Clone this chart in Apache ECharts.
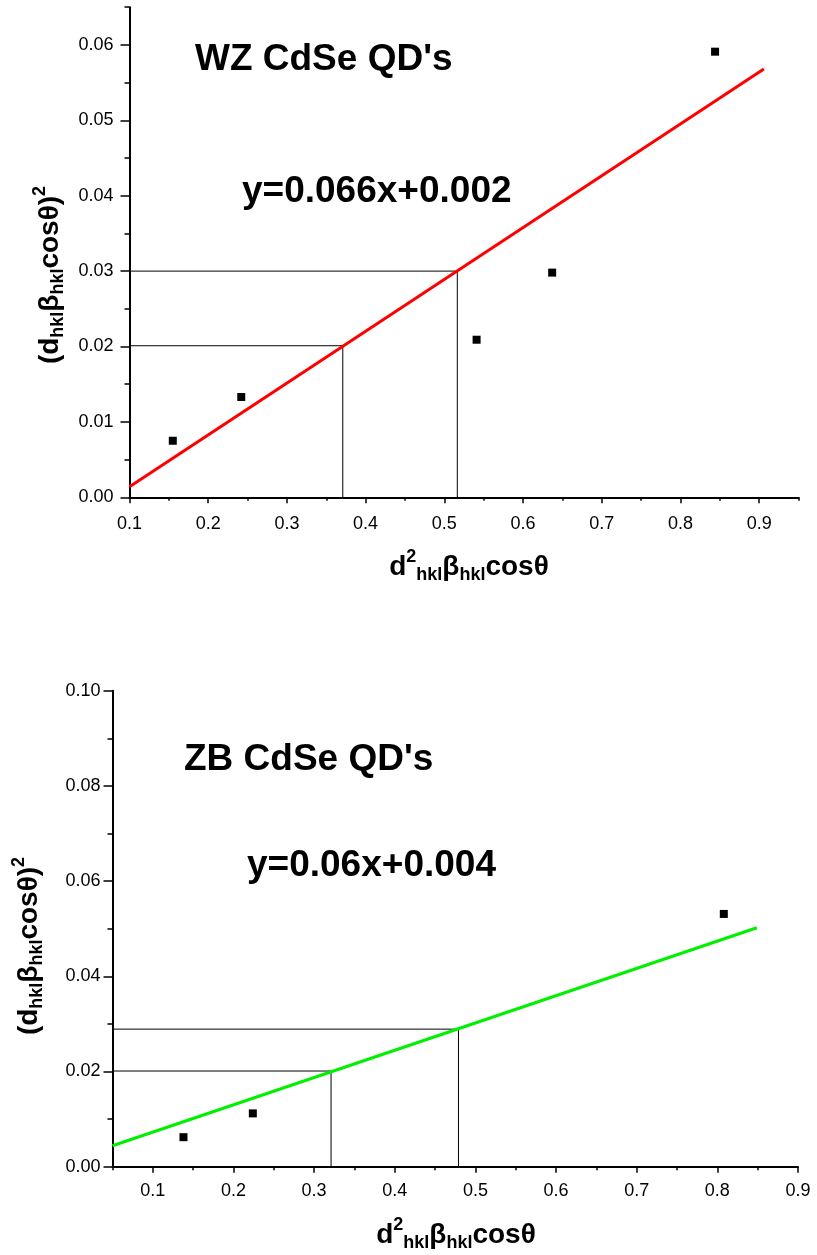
<!DOCTYPE html>
<html><head><meta charset="utf-8">
<script src="https://cdn.jsdelivr.net/npm/echarts@6/dist/echarts.min.js"></script>
<style>html,body{margin:0;padding:0;background:#fff}#c{width:817px;height:1255px}</style>
</head><body><div id="c"></div>
<script>
// ---------- WZ CdSe (top panel) ----------
const wzX = [0.155, 0.242, 0.541, 0.637, 0.844];
const wzY = [0.0075, 0.0133, 0.0209, 0.0298, 0.0591];
const wzFitX = [0.1, 0.906];
const wzFitY = [0.0014, 0.0568];
const wzGuideX = [0.371, 0.5165];
const wzGuideY = [0.0201, 0.030];
const wzXRange = [0.1, 0.95];
const wzYRange = [0, 0.065];
const wzXTicks = [0.1, 0.2, 0.3, 0.4, 0.5, 0.6, 0.7, 0.8, 0.9];
const wzYTicks = [0, 0.01, 0.02, 0.03, 0.04, 0.05, 0.06];
const wzTitle = "WZ CdSe QD's";
const wzEq = "y=0.066x+0.002";

// ---------- ZB CdSe (bottom panel) ----------
const zbX = [0.138, 0.224, 0.808];
const zbY = [0.0062, 0.0112, 0.0531];
const zbFitX = [0.05, 0.849];
const zbFitY = [0.0044, 0.0502];
const zbGuideX = [0.321, 0.479];
const zbGuideY = [0.0201, 0.0289];
const zbXRange = [0.05, 0.9];
const zbYRange = [0, 0.10];
const zbXTicks = [0.1, 0.2, 0.3, 0.4, 0.5, 0.6, 0.7, 0.8, 0.9];
const zbYTicks = [0, 0.02, 0.04, 0.06, 0.08, 0.10];
const zbTitle = "ZB CdSe QD's";
const zbEq = "y=0.06x+0.004";

const FONT = "'Liberation Sans', Arial, sans-serif";

function majorAxis(g, range, ticks, dec, pos, tickLen, margin) {
  return {
    type: 'value', gridIndex: g, min: range[0], max: range[1], position: pos,
    axisLine: { show: true, onZero: false, lineStyle: { color: '#000', width: 2 } },
    axisTick: { show: true, length: tickLen, customValues: ticks, lineStyle: { color: '#000', width: 1.5 } },
    axisLabel: { show: true, customValues: ticks, margin: margin, color: '#000', fontSize: 18, fontFamily: FONT,
      formatter: v => Number(v).toFixed(dec) },
    splitLine: { show: false }, minorTick: { show: false }
  };
}
function minorAxis(g, range, step, pos, tickLen) {
  return {
    type: 'value', gridIndex: g, min: range[0], max: range[1], interval: step, position: pos,
    axisLine: { show: false, onZero: false },
    axisTick: { show: true, length: tickLen, lineStyle: { color: '#000', width: 1.5 } },
    axisLabel: { show: false }, splitLine: { show: false }
  };
}
function guideSeries(xi, yi, gx, gy, xmin, ymin) {
  return gx.map((x, i) => ({
    type: 'line', xAxisIndex: xi, yAxisIndex: yi, symbol: 'none', silent: true,
    lineStyle: { color: '#000', width: 1 },
    data: [[xmin, gy[i]], [x, gy[i]], [x, ymin]]
  }));
}
const subStyle = { fontSize: 18, fontWeight: 'bold', fontFamily: FONT, fill: '#000', padding: [17, 0, 0, 0] };
const supStyle = { fontSize: 18, fontWeight: 'bold', fontFamily: FONT, fill: '#000', padding: [0, 0, 19, 0] };
const bStyle = { fontSize: 28, fontWeight: 'bold', fontFamily: FONT, fill: '#000' };
const richStyles = { b: bStyle, sub: subStyle, sup: supStyle };
const xTitleText = '{b|d}{sup|2}{sub|hkl}{b|β}{sub|hkl}{b|cosθ}';
const yTitleText = '{b|(d}{sub|hkl}{b|β}{sub|hkl}{b|cosθ)}{sup|2}';

function richText(x, y, text, rot) {
  return { type: 'text', x: x, y: y, rotation: rot || 0, z: 100,
    style: { text: text, rich: richStyles, fontSize: 28, fontWeight: 'bold', fontFamily: FONT, fill: '#000',
      align: 'center', verticalAlign: 'middle', textAlign: 'center', textVerticalAlign: 'middle' } };
}
function bigText(x, y, text) {
  return { type: 'text', x: x, y: y, z: 100,
    style: { text: text, fontSize: 37, fontWeight: 'bold', fontFamily: FONT, fill: '#000',
      align: 'left', verticalAlign: 'middle', textAlign: 'left', textVerticalAlign: 'middle' } };
}

const option = {
  animation: false,
  backgroundColor: '#fff',
  grid: [
    { left: 129.5, right: 18.5, top: 7.2, bottom: 757.7 },
    { left: 112.5, right: 19, top: 690.7, bottom: 88.3 }
  ],
  xAxis: [
    majorAxis(0, wzXRange, wzXTicks, 1, 'bottom', 6, 18),
    minorAxis(0, wzXRange, 0.05, 'bottom', 3.5),
    majorAxis(1, zbXRange, zbXTicks, 1, 'bottom', 6, 15),
    minorAxis(1, zbXRange, 0.05, 'bottom', 3.5)
  ],
  yAxis: [
    majorAxis(0, wzYRange, wzYTicks, 2, 'left', 9, 16),
    minorAxis(0, wzYRange, 0.005, 'left', 5),
    majorAxis(1, zbYRange, zbYTicks, 2, 'left', 9, 12),
    minorAxis(1, zbYRange, 0.01, 'left', 5)
  ],
  series: [
    ...guideSeries(0, 0, wzGuideX, wzGuideY, wzXRange[0], wzYRange[0]),
    { type: 'line', xAxisIndex: 0, yAxisIndex: 0, symbol: 'none', lineStyle: { color: '#ff0000', width: 3 },
      data: wzFitX.map((x, i) => [x, wzFitY[i]]) },
    { type: 'scatter', xAxisIndex: 0, yAxisIndex: 0, symbol: 'rect', symbolSize: 8, itemStyle: { color: '#000', opacity: 1 },
      data: wzX.map((x, i) => [x, wzY[i]]) },
    ...guideSeries(2, 2, zbGuideX, zbGuideY, zbXRange[0], zbYRange[0]),
    { type: 'line', xAxisIndex: 2, yAxisIndex: 2, symbol: 'none', lineStyle: { color: '#00f000', width: 3 },
      data: zbFitX.map((x, i) => [x, zbFitY[i]]) },
    { type: 'scatter', xAxisIndex: 2, yAxisIndex: 2, symbol: 'rect', symbolSize: 8, itemStyle: { color: '#000', opacity: 1 },
      data: zbX.map((x, i) => [x, zbY[i]]) }
  ],
  graphic: [
    bigText(195, 60, wzTitle),
    bigText(242, 192, wzEq),
    bigText(184, 760, zbTitle),
    bigText(247, 866, zbEq),
    richText(469, 567, xTitleText, 0),
    richText(456, 1235, xTitleText, 0),
    richText(50, 275, yTitleText, Math.PI / 2),
    richText(29, 946, yTitleText, Math.PI / 2)
  ]
};
const chart = echarts.init(document.getElementById('c'), null, { renderer: 'canvas' });
chart.setOption(option);
</script>
</body></html>
